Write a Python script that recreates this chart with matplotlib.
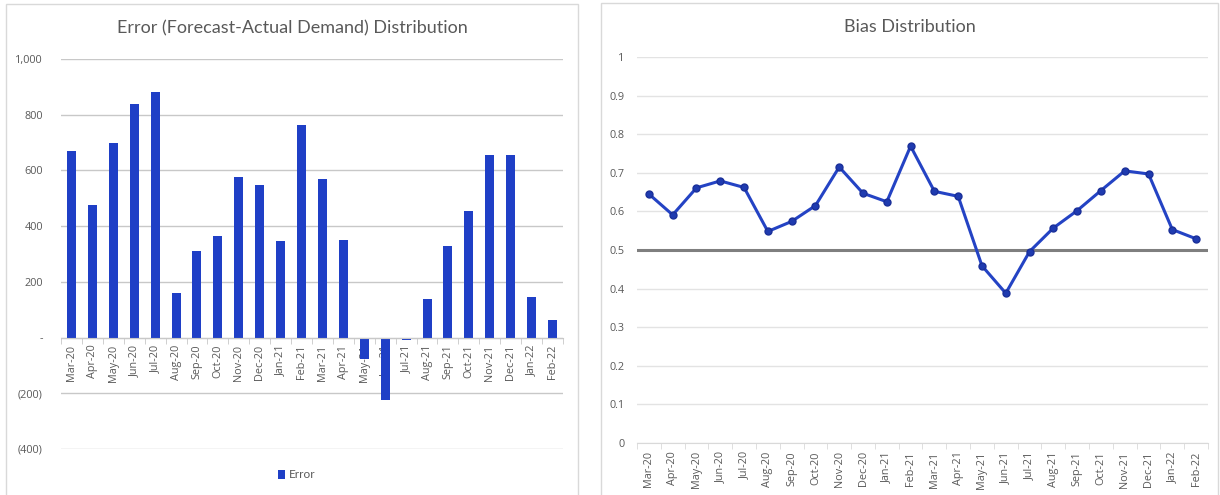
import numpy as np
import matplotlib.pyplot as plt
from matplotlib.patches import Rectangle
from matplotlib.ticker import FuncFormatter

plt.rcParams['font.family'] = ['Lato', 'DejaVu Sans']

# Meses do período analisado
meses = ['Mar-20', 'Apr-20', 'May-20', 'Jun-20', 'Jul-20', 'Aug-20', 'Sep-20', 'Oct-20',
         'Nov-20', 'Dec-20', 'Jan-21', 'Feb-21', 'Mar-21', 'Apr-21', 'May-21', 'Jun-21',
         'Jul-21', 'Aug-21', 'Sep-21', 'Oct-21', 'Nov-21', 'Dec-21', 'Jan-22', 'Feb-22']

# Erro = previsão - demanda real
erro = [670, 477, 697, 838, 883, 160, 311, 366, 575, 547, 348, 763,
        570, 352, -76, -225, -7, 140, 329, 454, 654, 656, 147, 64]

# Viés mensal
vies = [0.645, 0.591, 0.661, 0.679, 0.662, 0.548, 0.574, 0.615, 0.715, 0.647, 0.625, 0.769,
        0.652, 0.639, 0.459, 0.388, 0.496, 0.557, 0.602, 0.654, 0.705, 0.697, 0.553, 0.529]

cinza_texto = '#595959'
azul = '#1f3fc6'
fonte_eixos = ['Open Sans', 'DejaVu Sans']

W, H = 1220, 495
fig = plt.figure(figsize=(W / 100, H / 100), dpi=100)

# Molduras dos dois gráficos
for x0, x1, y0 in [(6, 578, 4), (601, 1218, 3)]:
    fig.add_artist(Rectangle((x0 / W, -0.01), (x1 - x0) / W, (H - y0) / H + 0.01,
                             transform=fig.transFigure, fill=False,
                             edgecolor='#d9d9d9', linewidth=1))

x = np.arange(len(meses))


def fmt_contabil(v, pos):
    if abs(v) < 1e-9:
        return '-'
    if v < 0:
        return '({:,.0f})'.format(-v)
    return '{:,.0f}'.format(v)


def estilo_rotulos(ax):
    for t in ax.get_xticklabels() + ax.get_yticklabels():
        t.set_family(fonte_eixos)
        t.set_fontsize(7.8)
        t.set_color(cinza_texto)


# --- Gráfico de barras: erro ---
ax1 = fig.add_axes([61 / W, (H - 449) / H, (563 - 61) / W, (449 - 59) / H])
ax1.bar(x, erro, width=0.43, color=azul, label='Error', zorder=2)
ax1.set_xlim(-0.5, len(meses) - 0.5)
ax1.set_ylim(-400, 1000)
ax1.set_yticks(np.arange(-400, 1001, 200))
ax1.yaxis.set_major_formatter(FuncFormatter(fmt_contabil))
ax1.grid(axis='y', color='#c8c8c8', linewidth=1)
ax1.set_axisbelow(True)
for s in ['top', 'right', 'left']:
    ax1.spines[s].set_visible(False)
ax1.spines['bottom'].set_position(('data', 0))
ax1.spines['bottom'].set_color('#c8c8c8')
ax1.set_xticks(x)
ax1.set_xticklabels(meses, rotation=90)
ax1.set_xticks(np.arange(-0.5, len(meses), 1), minor=True)
ax1.tick_params(axis='x', which='major', length=0, pad=5)
ax1.tick_params(axis='x', which='minor', length=4, color='#c8c8c8')
ax1.tick_params(axis='y', length=0, pad=13)
estilo_rotulos(ax1)
fig.text(292 / W, 1 - 28 / H, 'Error (Forecast-Actual Demand) Distribution',
         ha='center', va='center', fontsize=13, color=cinza_texto)
ax1.legend(loc='center', bbox_to_anchor=(297 / W, 1 - 475 / H), bbox_transform=fig.transFigure,
           frameon=False, handlelength=0.6, handleheight=0.7, handletextpad=0.3,
           fontsize=8.5, labelcolor=cinza_texto)

# --- Gráfico de linha: viés ---
ax2 = fig.add_axes([637 / W, (H - 443) / H, (1208 - 637) / W, (443 - 57) / H])
ax2.plot(x, vies, color='#2443c4', linewidth=2.2, marker='o', markersize=5,
         markerfacecolor='#1f3bb0', markeredgecolor='#1a2f99', zorder=3)
ax2.axhline(0.5, color='#7f7f7f', linewidth=2.2, zorder=2)
ax2.set_xlim(-0.5, len(meses) - 0.5)
ax2.set_ylim(0, 1)
ax2.set_yticks(np.arange(0, 1.01, 0.1))
ax2.yaxis.set_major_formatter(FuncFormatter(lambda v, p: '{:g}'.format(round(v, 1))))
ax2.grid(axis='y', color='#e3e3e3', linewidth=1)
ax2.set_axisbelow(True)
for s in ['top', 'right', 'left']:
    ax2.spines[s].set_visible(False)
ax2.spines['bottom'].set_color('#d9d9d9')
ax2.set_xticks(x)
ax2.set_xticklabels(meses, rotation=90)
ax2.set_xticks(np.arange(-0.5, len(meses), 1), minor=True)
ax2.tick_params(axis='x', which='major', length=0, pad=6)
ax2.tick_params(axis='x', which='minor', length=4, color='#d9d9d9')
ax2.tick_params(axis='y', length=0, pad=9)
estilo_rotulos(ax2)
fig.text(910 / W, 1 - 27 / H, 'Bias Distribution',
         ha='center', va='center', fontsize=13, color=cinza_texto)

plt.savefig('out.png', dpi=100)
